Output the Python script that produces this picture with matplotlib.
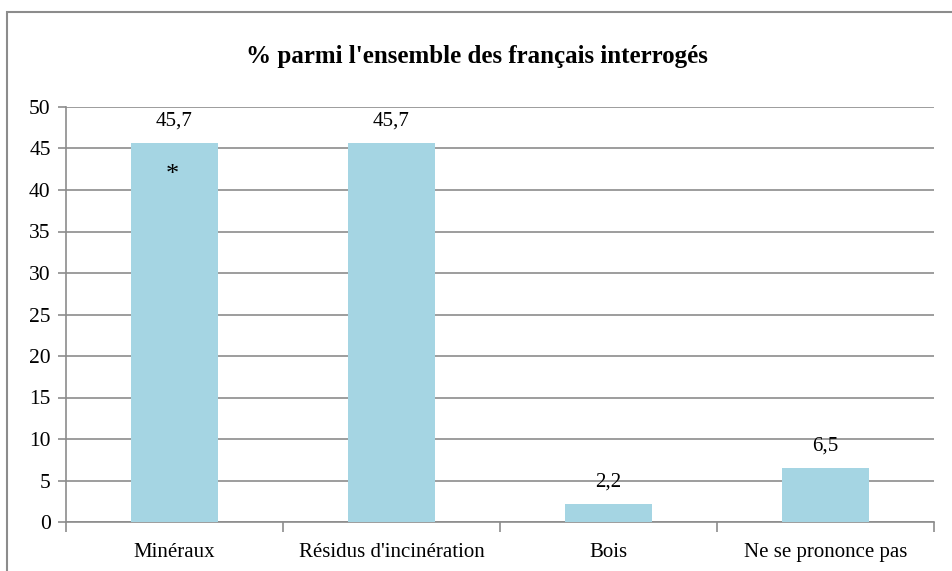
import matplotlib.pyplot as plt
from matplotlib.patches import Rectangle

categories = ["Minéraux", "Résidus d'incinération", "Bois", "Ne se prononce pas"]
values = [45.7, 45.7, 2.2, 6.5]
labels = ["45,7", "45,7", "2,2", "6,5"]

plt.rcParams['font.family'] = ['Liberation Serif', 'DejaVu Serif']

fig = plt.figure(figsize=(9.53, 5.71), dpi=100)
ax = fig.add_axes([66 / 953, 1 - 522 / 571, 868 / 953, 415 / 571])

# outer chart frame (cropped on right and bottom)
fig.patches.append(Rectangle((7 / 953, -0.1), 1.2, 1 - 12 / 571 + 0.1,
                             transform=fig.transFigure, fill=False,
                             edgecolor="#8c8c8c", lw=1.5))

x = list(range(len(categories)))
ax.bar(x, values, width=0.405, color="#A5D5E3", zorder=3)

for xi, v, lab in zip(x, values, labels):
    ax.annotate(lab, (xi, v), xytext=(0, 9), textcoords="offset points",
                ha="center", va="bottom", fontsize=15)

# asterisk inside the first bar
ax.text(-0.01, 41.8, "*", ha="center", va="center", fontsize=19)

ax.set_xlim(-0.5, len(categories) - 0.5)
ax.set_ylim(0, 50)
ax.set_yticks(range(0, 51, 5))
ax.set_xticks(x)
ax.set_xticklabels(categories)
ax.set_xticks([i - 0.5 for i in range(len(categories) + 1)], minor=True)
ax.tick_params(axis="x", which="major", length=0, pad=15, labelsize=15)
ax.tick_params(axis="x", which="minor", length=7, color="#8c8c8c", width=1.2)
ax.tick_params(axis="y", length=6, color="#8c8c8c", width=1.2, labelsize=15.5, pad=5)

ax.grid(axis="y", color="#8c8c8c", lw=1.2, zorder=0)
for s in ["top", "right"]:
    ax.spines[s].set_visible(False)
for s in ["left", "bottom"]:
    ax.spines[s].set_color("#8c8c8c")
    ax.spines[s].set_linewidth(1.2)

fig.text(0.5, 1 - 57 / 571, "% parmi l'ensemble des français interrogés",
         ha="center", va="center", fontsize=18, fontweight="bold")

fig.savefig("out.png", dpi=100)
